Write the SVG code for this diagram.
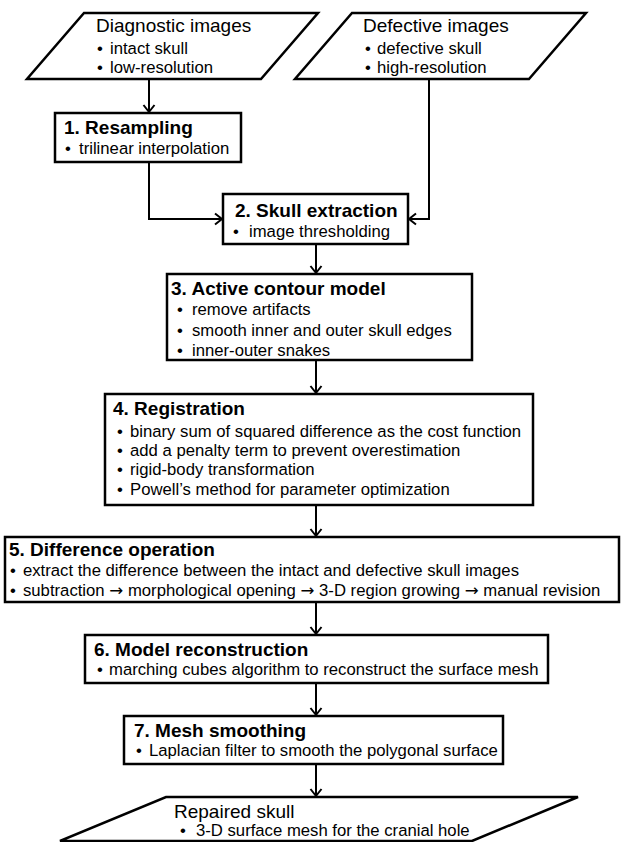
<svg xmlns="http://www.w3.org/2000/svg" width="621" height="842" viewBox="0 0 621 842">
<style>
.shape{fill:#fff;stroke:#000;stroke-width:2.5}
.conn{fill:none;stroke:#000;stroke-width:2}
text{font-family:"Liberation Sans",Arial,sans-serif;fill:#000}
.t{font-size:19px;font-weight:bold}
.h{font-size:19px}
.b{font-size:16.7px}
.ar{font-family:"DejaVu Sans",sans-serif}
</style>
<defs>
<marker id="arr" viewBox="-9 -7 11 14" refX="0" refY="0" markerWidth="11" markerHeight="14" markerUnits="userSpaceOnUse" orient="auto">
<path d="M-7,-5.5 L0,0 L-7,5.5" fill="none" stroke="#000" stroke-width="2"/>
</marker>
</defs>
<rect width="621" height="842" fill="#fff"/>
<g id="connectors">
<path class="conn" d="M149,79 V112" marker-end="url(#arr)"/>
<path class="conn" d="M149,162 V219 H222" marker-end="url(#arr)"/>
<path class="conn" d="M429,79 V219 H409" marker-end="url(#arr)"/>
<path class="conn" d="M316,244 V273" marker-end="url(#arr)"/>
<path class="conn" d="M316,360 V393" marker-end="url(#arr)"/>
<path class="conn" d="M316,505 V536" marker-end="url(#arr)"/>
<path class="conn" d="M316,602 V634" marker-end="url(#arr)"/>
<path class="conn" d="M316,683 V715" marker-end="url(#arr)"/>
<path class="conn" d="M316,764 V796" marker-end="url(#arr)"/>
</g>
<g id="diagnostic">
<polygon class="shape" points="84,13 318,13 261,79 27,79"/>
<text class="h" x="96" y="32">Diagnostic images</text>
<text class="b" x="97" y="54">•<tspan x="110">intact skull</tspan></text>
<text class="b" x="97" y="73">•<tspan x="110">low-resolution</tspan></text>
</g>
<g id="defective">
<polygon class="shape" points="352,13 586,13 529,79 295,79"/>
<text class="h" x="363" y="32">Defective images</text>
<text class="b" x="365" y="54">•<tspan x="377">defective skull</tspan></text>
<text class="b" x="365" y="73">•<tspan x="377">high-resolution</tspan></text>
</g>
<g id="step1">
<rect class="shape" x="55" y="113" width="186" height="49"/>
<text class="t" x="64" y="134">1. Resampling</text>
<text class="b" x="65" y="154">•<tspan x="79">trilinear interpolation</tspan></text>
</g>
<g id="step2">
<rect class="shape" x="223" y="194" width="185" height="50"/>
<text class="t" x="235" y="217">2. Skull extraction</text>
<text class="b" x="233" y="237">•<tspan x="249">image thresholding</tspan></text>
</g>
<g id="step3">
<rect class="shape" x="167" y="274" width="305" height="86"/>
<text class="t" x="171" y="295">3. Active contour model</text>
<text class="b" x="177" y="315">•<tspan x="192">remove artifacts</tspan></text>
<text class="b" x="177" y="336">•<tspan x="192">smooth inner and outer skull edges</tspan></text>
<text class="b" x="177" y="356">•<tspan x="192">inner-outer snakes</tspan></text>
</g>
<g id="step4">
<rect class="shape" x="105" y="394" width="428" height="111"/>
<text class="t" x="113" y="415">4. Registration</text>
<text class="b" x="117" y="437">•<tspan x="130">binary sum of squared difference as the cost function</tspan></text>
<text class="b" x="117" y="456">•<tspan x="130">add a penalty term to prevent overestimation</tspan></text>
<text class="b" x="117" y="475">•<tspan x="130">rigid-body transformation</tspan></text>
<text class="b" x="117" y="495">•<tspan x="130">Powell’s method for parameter optimization</tspan></text>
</g>
<g id="step5">
<rect class="shape" x="5" y="537" width="614" height="65"/>
<text class="t" x="9" y="556">5. Difference operation</text>
<text class="b" x="10" y="576">•<tspan x="23">extract the difference between the intact and defective skull images</tspan></text>
<text class="b" x="10" y="596">•<tspan x="23">subtraction <tspan class="ar">→</tspan> morphological opening <tspan class="ar">→</tspan> 3-D region growing <tspan class="ar">→</tspan> manual revision</tspan></text>
</g>
<g id="step6">
<rect class="shape" x="85" y="635" width="463" height="48"/>
<text class="t" x="94" y="656">6. Model reconstruction</text>
<text class="b" x="97" y="675">•<tspan x="109">marching cubes algorithm to reconstruct the surface mesh</tspan></text>
</g>
<g id="step7">
<rect class="shape" x="124" y="716" width="379" height="48"/>
<text class="t" x="134" y="737">7. Mesh smoothing</text>
<text class="b" x="136" y="756">•<tspan x="149">Laplacian filter to smooth the polygonal surface</tspan></text>
</g>
<g id="repaired">
<polygon class="shape" points="166,797 578,797 472,841 60,841"/>
<text class="h" x="174" y="818">Repaired skull</text>
<text class="b" x="180" y="836">•<tspan x="196">3-D surface mesh for the cranial hole</tspan></text>
</g>
</svg>
